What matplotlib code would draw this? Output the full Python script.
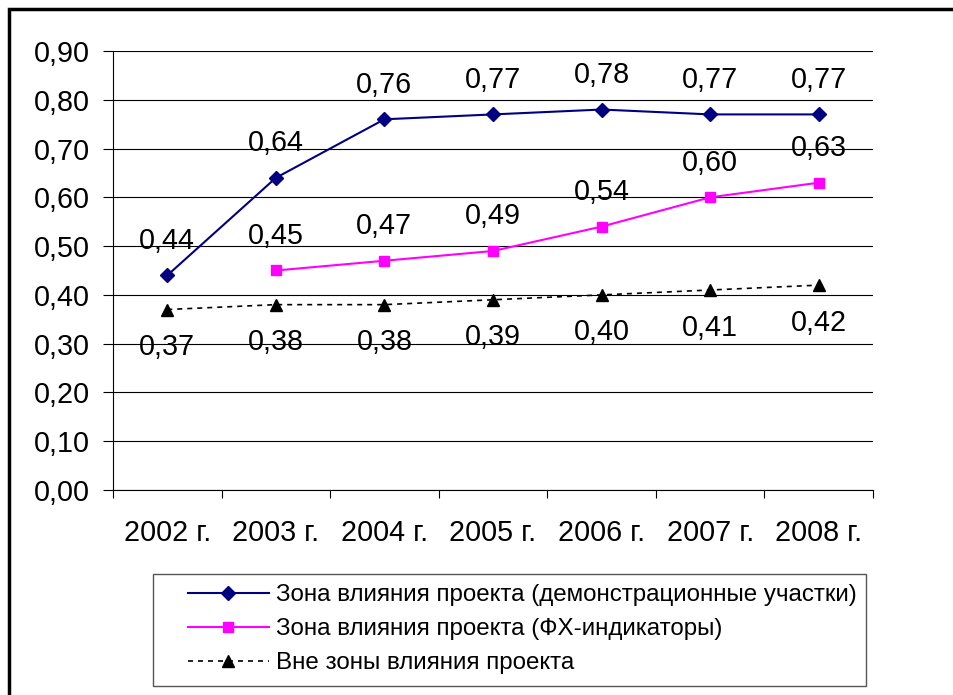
import numpy as np
import matplotlib.pyplot as plt
from matplotlib.patches import Rectangle

plt.rcParams['font.family'] = ['Liberation Sans', 'DejaVu Sans']

# data
years = ['2002 г.', '2003 г.', '2004 г.', '2005 г.', '2006 г.', '2007 г.', '2008 г.']
demo = [0.44, 0.64, 0.76, 0.77, 0.78, 0.77, 0.77]
fx = [np.nan, 0.45, 0.47, 0.49, 0.54, 0.60, 0.63]
outside = [0.37, 0.38, 0.38, 0.39, 0.40, 0.41, 0.42]
names = ['Зона влияния проекта (демонстрационные участки)',
         'Зона влияния проекта (ФХ-индикаторы)',
         'Вне зоны влияния проекта']

fig = plt.figure(figsize=(9.54, 6.95), dpi=100)
ax = fig.add_axes([113/954, 1 - 490/695, 760/954, 439/695])

x = np.arange(len(years))
l1, = ax.plot(x, demo, color='#000080', lw=1.5, marker='D', ms=7, label=names[0])
l2, = ax.plot(x, fx, color='#FF00FF', lw=1.5, marker='s', ms=7, label=names[1])
l3, = ax.plot(x, outside, color='black', lw=1.2, ls=(0, (3, 3)), marker='^', ms=8, label=names[2])

fs = 20.7
def fmt(v):
    return f'{v:.2f}'.replace('.', ',')

for xi, v in zip(x, demo):
    ax.annotate(fmt(v), (xi, v), xytext=(0, 25), textcoords='offset points',
                ha='center', va='center', fontsize=fs)
for xi, v in zip(x, fx):
    if not np.isnan(v):
        ax.annotate(fmt(v), (xi, v), xytext=(0, 25), textcoords='offset points',
                    ha='center', va='center', fontsize=fs)
for xi, v in zip(x, outside):
    ax.annotate(fmt(v), (xi, v), xytext=(0, -27), textcoords='offset points',
                ha='center', va='center', fontsize=fs)

ax.set_xlim(-0.5, len(years) - 0.5)
ax.set_ylim(0, 0.9)
yt = np.arange(0, 0.91, 0.1)
ax.set_yticks(yt)
ax.set_yticklabels([fmt(t) for t in yt], fontsize=fs)
ax.yaxis.grid(True, color='black', lw=0.8)
ax.set_axisbelow(True)

ax.set_xticks(x)
ax.set_xticklabels(years, fontsize=fs)
ax.tick_params(axis='x', which='major', length=0, pad=21)
ax.set_xticks(np.arange(-0.5, len(years)), minor=True)
ax.tick_params(axis='x', which='minor', length=6, width=0.8)
ax.tick_params(axis='y', length=7.5, width=0.8, pad=9)

for s in ['top', 'right']:
    ax.spines[s].set_visible(False)
for s in ['left', 'bottom']:
    ax.spines[s].set_linewidth(0.8)

# legend box drawn separately, entries placed inside
fig.patches.append(Rectangle((153/954, 1 - 686/695), 713/954, 112/695, transform=fig.transFigure,
                             fill=False, lw=1, edgecolor='#555555'))
fig.legend(handles=[l1, l2, l3], loc='upper left', bbox_to_anchor=(188/954, 1 - 584/695),
           fontsize=17.4, frameon=False, handlelength=3.35, borderpad=0, borderaxespad=0,
           labelspacing=0.5, handletextpad=0.29)

fig.patches.append(Rectangle((9/954, -0.1), 1.1, 1 - 9/695 + 0.1, transform=fig.transFigure,
                             fill=False, lw=2.5, edgecolor='black'))

fig.savefig('out.png', dpi=100)
